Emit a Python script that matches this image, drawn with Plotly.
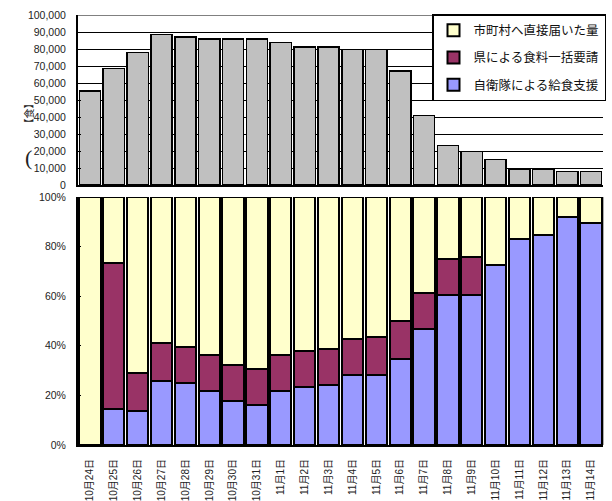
import plotly.graph_objects as go

dates = ["10月24日", "10月25日", "10月26日", "10月27日", "10月28日", "10月29日", "10月30日",
         "10月31日", "11月1日", "11月2日", "11月3日", "11月4日", "11月5日", "11月6日",
         "11月7日", "11月8日", "11月9日", "11月10日", "11月11日", "11月12日", "11月13日", "11月14日"]

total_meals = [55200, 68400, 77800, 88400, 87000, 86000, 86000, 86000, 83700, 81100, 81100,
               79800, 79800, 67200, 40900, 23200, 19700, 15000, 9000, 9000, 7800, 7800]

sdf_pct = [0, 14.5, 13.8, 25.8, 25.1, 21.8, 17.9, 16.1, 21.8, 23.5, 24.2, 28.2, 28.2, 34.7,
           46.8, 60.5, 60.5, 72.6, 83.1, 84.7, 92.1, 89.6]
pref_pct = [0, 59.0, 15.4, 15.3, 14.5, 14.6, 14.4, 14.4, 14.6, 14.3, 14.5, 14.7, 15.5, 15.4,
            14.4, 14.5, 15.4, 0, 0, 0, 0, 0]
direct_pct = [100, 26.5, 70.8, 58.9, 60.4, 63.6, 67.7, 69.5, 63.6, 62.2, 61.3, 57.1, 56.3, 49.9,
              38.8, 25.0, 24.1, 27.4, 16.9, 15.3, 7.9, 10.4]

names = ["自衛隊による給食支援", "県による食料一括要請", "市町村へ直接届いた量"]
colors = ["#9999FF", "#993366", "#FFFFCC"]
ranks = [3, 2, 1]

W, H = 612, 501
X0, X1 = 78, 603
TOP_Y0, TOP_Y1 = 15, 185
BOT_Y0, BOT_Y1 = 197, 445

def py(p):
    return 1 - p / H

fig = go.Figure()
fig.add_trace(go.Bar(x=dates, y=total_meals, xaxis="x2", yaxis="y2",
                     marker=dict(color="#C0C0C0", line=dict(color="black", width=1.5)),
                     showlegend=False, hoverinfo="skip"))
for vals, nm, col, rk in zip([sdf_pct, pref_pct, direct_pct], names, colors, ranks):
    fig.add_trace(go.Bar(x=dates, y=vals, name=nm, xaxis="x", yaxis="y", legendgroup=nm,
                         legendrank=rk,
                         marker=dict(color=col, line=dict(color="black", width=2))))

tickfont = dict(family="Liberation Sans, Arial, Noto Sans CJK JP", size=10.5, color="#222")

fig.update_layout(
    width=W, height=H,
    margin=dict(l=0, r=0, t=0, b=0),
    paper_bgcolor="white", plot_bgcolor="white",
    barmode="stack", bargap=0.11,
    xaxis=dict(domain=[X0 / W, X1 / W], anchor="y", tickangle=-90,
               tickfont=dict(family="Liberation Sans, Noto Sans CJK JP", size=10, color="#222"),
               showline=True, linecolor="black", linewidth=2, ticks="", automargin=False,
               ticklabelstandoff=8),
    yaxis=dict(domain=[py(BOT_Y1), py(BOT_Y0)], range=[0, 100], dtick=20, ticksuffix="%",
               showgrid=False, zeroline=False, showline=True, linecolor="black", linewidth=2,
               ticks="inside", ticklen=3, tickcolor="black", tickfont=tickfont, automargin=False,
               ticklabelstandoff=8),
    xaxis2=dict(domain=[X0 / W, X1 / W], anchor="y2", showticklabels=False,
                showline=True, linecolor="black", linewidth=2, ticks="", automargin=False),
    yaxis2=dict(domain=[py(TOP_Y1), py(TOP_Y0)], range=[0, 100000], dtick=10000, tickformat=",d",
                showgrid=True, gridcolor="black", gridwidth=1, zeroline=False,
                showline=True, linecolor="black", linewidth=2,
                ticks="inside", ticklen=3, tickcolor="black", tickfont=tickfont, automargin=False,
                ticklabelstandoff=8),
    legend=dict(x=432 / W, y=py(14), xanchor="left", yanchor="top",
                bgcolor="white", bordercolor="black", borderwidth=1.5,
                traceorder="grouped", tracegroupgap=8,
                font=dict(family="Noto Sans CJK JP", size=12.5, color="#111")),
    showlegend=True,
    shapes=[
        dict(type="line", xref="x2 domain", yref="y2", x0=0, x1=1, y0=100000, y1=100000,
             line=dict(color="#808080", width=2), layer="above"),
        dict(type="line", xref="x domain", yref="y domain", x0=1, x1=1, y0=0, y1=1,
             line=dict(color="#909090", width=1.5), layer="below"),
    ],
    annotations=[
        dict(text="【食】", x=18 / W, y=py(97), xref="paper", yref="paper", showarrow=False,
             textangle=-90, font=dict(family="Noto Sans CJK JP", size=10, color="#222")),
        dict(text="(", x=23 / W, y=py(143), xref="paper", yref="paper", showarrow=False,
             font=dict(family="Liberation Serif", size=22, color="#222")),
    ],
)

fig.write_html("out.html", config={"displayModeBar": False},
               post_script="document.body.style.margin='0';document.body.style.padding='0';")
